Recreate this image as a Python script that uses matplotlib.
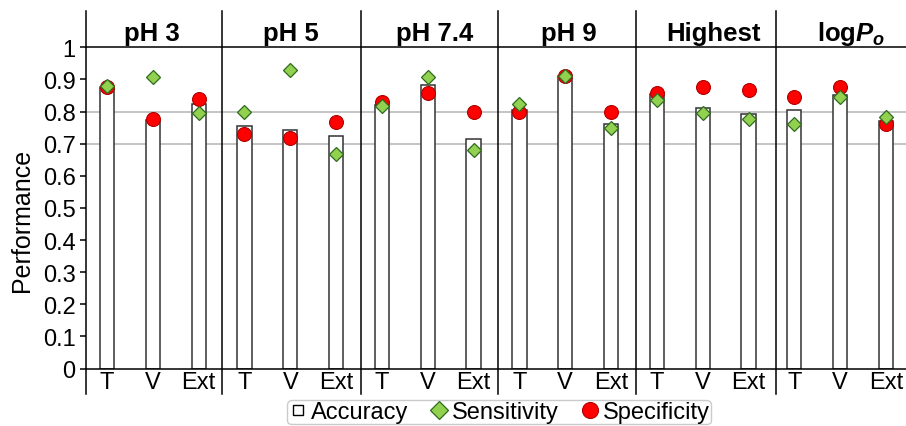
import matplotlib
matplotlib.use("Agg")
import matplotlib.pyplot as plt
from matplotlib.lines import Line2D
import numpy as np

plt.rcParams['font.family'] = ['Liberation Sans', 'DejaVu Sans']
plt.rcParams['mathtext.fontset'] = 'custom'
plt.rcParams['mathtext.rm'] = 'Liberation Sans:bold'
plt.rcParams['mathtext.it'] = 'Liberation Sans:italic:bold'
plt.rcParams['mathtext.bf'] = 'Liberation Sans:bold'
plt.rcParams['mathtext.bfit'] = 'Liberation Sans:italic:bold'

# ---- data ----
groups = ["pH 3", "pH 5", "pH 7.4", "pH 9", "Highest", r"log$\mathit{P}_{\mathit{o}}$"]
subsets = ["T", "V", "Ext"]
accuracy = [0.875, 0.775, 0.824, 0.754, 0.744, 0.725, 0.820, 0.883, 0.713,
            0.804, 0.910, 0.762, 0.854, 0.812, 0.791, 0.804, 0.850, 0.771]
sensitivity = [0.878, 0.909, 0.797, 0.799, 0.928, 0.669, 0.817, 0.908, 0.679,
               0.822, 0.910, 0.750, 0.836, 0.797, 0.776, 0.762, 0.846, 0.784]
specificity = [0.875, 0.778, 0.839, 0.729, 0.719, 0.768, 0.830, 0.857, 0.799,
               0.800, 0.911, 0.799, 0.857, 0.877, 0.867, 0.844, 0.875, 0.760]
yticks = [0, 0.1, 0.2, 0.3, 0.4, 0.5, 0.6, 0.7, 0.8, 0.9, 1]
ytick_labels = ["0", "0.1", "0.2", "0.3", "0.4", "0.5", "0.6", "0.7", "0.8", "0.9", "1"]

W, H = 906, 427
fig = plt.figure(figsize=(W / 100, H / 100), dpi=100)

# axes geometry in pixels
x_left_px, x_right_px = 86, 908.9
y0_px, y1_px = 369.5, 48.3
ax = fig.add_axes([x_left_px / W, (H - y0_px) / H,
                   (x_right_px - x_left_px) / W, (y0_px - y1_px) / H])

n = len(accuracy)
x = np.arange(n)
ax.set_xlim(-0.458, n - 0.5)
ax.set_ylim(0, 1)

# gridlines (only 0.7 and 0.8 visible in reference)
for g in (0.7, 0.8):
    ax.axhline(g, color='#BFBFBF', lw=1.3, zorder=1)

ax.bar(x, accuracy, width=0.31, color='white', edgecolor='#333333',
       linewidth=1.1, zorder=2)
ax.plot(x, specificity, linestyle='none', marker='o', ms=10,
        mfc='#FF0000', mec='#B00000', mew=0.8, zorder=4)
ax.plot(x, sensitivity, linestyle='none', marker='D', ms=7.6,
        mfc='#92D050', mec='#2E6B1F', mew=0.9, zorder=5)

# spines / frame lines
for s in ax.spines.values():
    s.set_visible(False)
ax.axhline(1, color='black', lw=1.1, zorder=3, clip_on=False)
ax.axhline(0, color='black', lw=1.1, zorder=3, clip_on=False)

ylo, yhi = -0.079, 1.113
ax.plot([-0.458, -0.458], [ylo, yhi], color='black', lw=1.1, clip_on=False, zorder=3)
divider_x = [2.51, 5.54, 8.53, 11.55, 14.61]
for dx in divider_x:
    ax.plot([dx, dx], [ylo, yhi], color='black', lw=1.1, clip_on=False, zorder=3)

# ticks
ax.set_yticks(yticks)
ax.set_yticklabels(ytick_labels, fontsize=17)
ax.tick_params(axis='y', direction='out', length=4, width=1.1, pad=3.5, colors='black')
ax.set_xticks(x)
ax.set_xticklabels(subsets * len(groups), fontsize=17)
ax.tick_params(axis='x', length=0, pad=1.5)

# group headers
header_x = [0.976, 4.02, 7.16, 10.08, 13.24, 16.24]
for gx, name in zip(header_x, groups):
    ax.text(gx, 1.024, name, ha='center', va='baseline', fontsize=18.5,
            fontweight='bold', clip_on=False)

fig.text(22 / W, (H - 220) / H, "Performance", rotation=90, ha='center',
         va='center', fontsize=18)

handles = [
    Line2D([], [], linestyle='none', marker='s', ms=7.5, mfc='white', mec='black', mew=1.0),
    Line2D([], [], linestyle='none', marker='D', ms=9.5, mfc='#92D050', mec='#2E6B1F', mew=0.9),
    Line2D([], [], linestyle='none', marker='o', ms=11.5, mfc='#FF0000', mec='#B00000', mew=0.8),
]
leg = fig.legend(handles, ["Accuracy", "Sensitivity", "Specificity"], ncol=3,
                 loc='upper center', bbox_to_anchor=(499 / W, (H - 401) / H),
                 fontsize=17, frameon=True, fancybox=True, handlelength=0.8,
                 handletextpad=0.15, columnspacing=0.9, borderpad=0.05,
                 borderaxespad=0)
leg.get_frame().set_edgecolor('#BFBFBF')
leg.get_frame().set_linewidth(1.0)

fig.savefig("out.png", dpi=100)
